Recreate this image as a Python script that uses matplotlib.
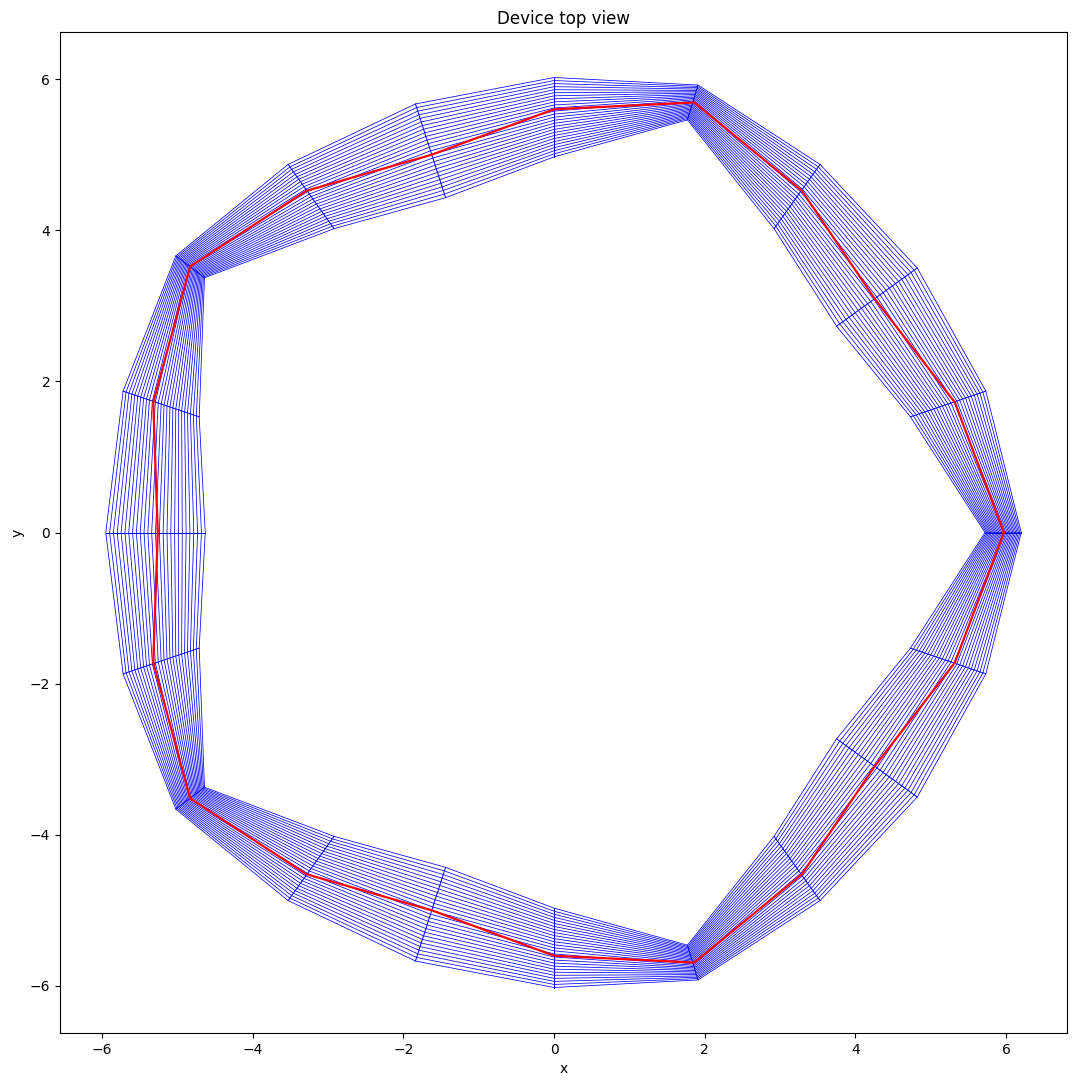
import numpy as np
import matplotlib
matplotlib.use('Agg')
import matplotlib.pyplot as plt

# section stations, +x axis round to -x axis (upper half)
outer_x  = [6.20, 5.73, 4.82, 3.53, 1.91, 0.00, -1.84, -3.53, -5.02, -5.72, -5.95]
outer_y  = [0.00, 1.87, 3.50, 4.87, 5.92, 6.02, 5.67, 4.87, 3.66, 1.87, 0.00]
inner_x  = [5.72, 4.73, 3.75, 2.92, 1.77, 0.00, -1.44, -2.92, -4.64, -4.71, -4.63]
inner_y  = [0.00, 1.53, 2.73, 4.02, 5.46, 4.97, 4.43, 4.02, 3.37, 1.53, 0.00]
center_x = [5.97, 5.32, 4.25, 3.29, 1.86, 0.00, -1.62, -3.29, -4.83, -5.32, -5.26]
center_y = [0.00, 1.72, 3.10, 4.52, 5.69, 5.60, 5.00, 4.52, 3.52, 1.72, 0.00]
N_SPANS = 26


def mirror(x, y):
    # lower half is the reflection of the upper one, closed back at the first station
    x, y = np.array(x), np.array(y)
    return np.r_[x, x[-2::-1]], np.r_[y, -y[-2::-1]]


ox, oy = mirror(outer_x, outer_y)
ix, iy = mirror(inner_x, inner_y)
cx, cy = mirror(center_x, center_y)

fig = plt.figure(figsize=(10.77, 10.86), dpi=100)
ax = fig.add_axes([60 / 1077, 1 - 1033 / 1086, 1007 / 1077, 1001 / 1086])

# spanwise lines
for s in np.linspace(0, 1, N_SPANS + 1):
    ax.plot(ix + s * (ox - ix), iy + s * (oy - iy), color='b', lw=0.55)
# chordwise lines at each station
for k in range(len(ox)):
    ax.plot([ix[k], ox[k]], [iy[k], oy[k]], color='b', lw=0.7)
ax.plot(cx, cy, color='r', lw=1.6)

ax.set_xlabel('x')
ax.set_ylabel('y')
ax.set_title('Device top view')
plt.savefig('out.png', dpi=100)
